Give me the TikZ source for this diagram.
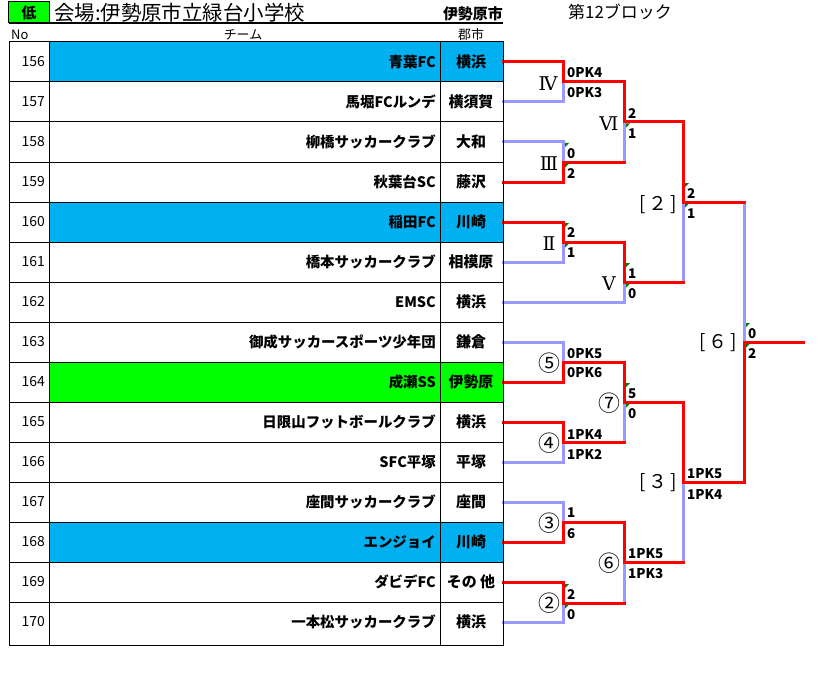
\documentclass[tikz,border=0pt]{standalone}
\usepackage{fontspec}
\setmainfont{Noto Sans CJK JP}
\newfontfamily\romanfont{DejaVu Serif}
\definecolor{redl}{RGB}{255,0,0}
\definecolor{bluel}{RGB}{153,153,255}
\definecolor{cyanfill}{RGB}{0,176,240}
\definecolor{limefill}{RGB}{0,255,0}
\definecolor{tickgreen}{RGB}{0,128,0}
\newcommand\fsz[1]{\fontsize{#1}{#1}\selectfont}
\begin{document}
\begin{tikzpicture}[x=1bp,y=-1bp,
  win/.style={draw=redl, line width=3bp, line join=miter, line cap=rect},
  lose/.style={draw=bluel, line width=3bp, line join=miter, line cap=rect},
  score/.style={anchor=west, inner sep=0pt, font=\fsz{13.5}\bfseries},
  mlabel/.style={inner sep=0pt, font=\fsz{19}\romanfont},
  circlab/.style={inner sep=0pt, font=\fsz{22}},
  brlab/.style={inner sep=0pt, font=\fsz{19}},
  gridline/.style={draw=black, line width=1bp},
  tickmark/.style={fill=tickgreen},
  numtxt/.style={anchor=east, inner sep=0pt, font=\fsz{14}},
  teamtxt/.style={anchor=east, inner sep=0pt, font=\fsz{14.5}\bfseries},
  citytxt/.style={inner sep=0pt, font=\fsz{15}\bfseries},
  headtxt/.style={inner sep=0pt, font=\fsz{13}}]
\useasboundingbox (0,0) rectangle (819,685);
\fill[white] (0,0) rectangle (819,685);

% header
\node[draw=black, line width=1bp, fill=limefill, minimum width=40bp, minimum height=21bp, inner sep=0pt, font=\fsz{15}\bfseries] (low) at (29,12.5) {低};
\node[anchor=west, inner sep=0pt, font=\fsz{20.5}] (title) at (54,13) {会場:伊勢原市立緑台小学校};
\node[anchor=east, inner sep=0pt, font=\fsz{15}\bfseries] (cityhead) at (503,14) {伊勢原市};
\node[anchor=west, inner sep=0pt, font=\fsz{17}] (block) at (568,12) {第12ブロック};
\coordinate (hl) at (9,23);
\coordinate (hr) at (503,23);
\draw[line width=1.3bp] (hl) -- (hr);
\node[headtxt, anchor=west] (hno) at (11,35) {No};
\node[headtxt] (hteam) at (243,35) {チーム};
\node[headtxt] (hcity) at (471,35) {郡市};

% rows
\foreach \num/\team/\city/\fc [count=\k from 0] in {
 156/青葉FC/横浜/cyanfill,
 157/馬堀FCルンデ/横須賀/white,
 158/柳橋サッカークラブ/大和/white,
 159/秋葉台SC/藤沢/white,
 160/稲田FC/川崎/cyanfill,
 161/橋本サッカークラブ/相模原/white,
 162/EMSC/横浜/white,
 163/御成サッカースポーツ少年団/鎌倉/white,
 164/成瀬SS/伊勢原/limefill,
 165/日限山フットボールクラブ/横浜/white,
 166/SFC平塚/平塚/white,
 167/座間サッカークラブ/座間/white,
 168/エンジョイ/川崎/cyanfill,
 169/ダビデFC/その 他/white,
 170/一本松サッカークラブ/横浜/white}{
  \pgfmathsetmacro\yc{62+40*\k}
  \fill[\fc] (49,{\yc-20}) rectangle (503,{\yc+20});
  \node[numtxt] (n\num) at (45,\yc) {\num};
  \node[teamtxt] (t\num) at (436,\yc) {\team};
  \node[citytxt] (c\num) at (471,\yc) {\city};
  \coordinate (r\num) at (503,\yc);
}

% match points
\coordinate (mIV) at (563,82);
\coordinate (mIII) at (563,162);
\coordinate (mII) at (563,242);
\coordinate (mVI) at (624,122);
\coordinate (mV) at (624,282);
\coordinate (mb2) at (683,202);
\coordinate (mc5) at (563,362);
\coordinate (mc4) at (563,442);
\coordinate (mc3) at (563,522);
\coordinate (mc2) at (563,603);
\coordinate (mc7) at (624,402);
\coordinate (mc6) at (624,562);
\coordinate (mb3) at (683,482);
\coordinate (mb6) at (744,342);
\coordinate (fin) at (803,342);

% losers (blue)
\draw[lose] (r157) -| (mIV);
\draw[lose] (r158) -| (mIII);
\draw[lose] (mIII -| mVI) -- (mVI);
\draw[lose] (r161) -| (mII);
\draw[lose] (r162) -| (mV);
\draw[lose] (mV -| mb2) -- (mb2);
\draw[lose] (mb2 -| mb6) -- (mb6);
\draw[lose] (r163) -| (mc5);
\draw[lose] (r166) -| (mc4);
\draw[lose] (mc4 -| mc7) -- (mc7);
\draw[lose] (r167) -| (mc3);
\draw[lose] (mc6 -| mb3) -- (mb3);
\draw[lose] (r170) -| (mc2);
\draw[lose] (mc2 -| mc6) -- (mc6);

% winners (red)
\draw[win] (r156) -| (mIV) -| (mVI) -| (mb2) -- (mb2 -| mb6);
\draw[win] (r159) -| (mIII) -- (mIII -| mVI);
\draw[win] (r160) -| (mII) -| (mV) -- (mV -| mb2);
\draw[win] (r164) -| (mc5) -| (mc7) -| (mb3) -| (mb6) -- (fin);
\draw[win] (r165) -| (mc4) -- (mc4 -| mc7);
\draw[win] (r168) -| (mc3) -| (mc6) -- (mc6 -| mb3);
\draw[win] (r169) -| (mc2) -- (mc2 -| mc6);

% table grid
\draw[gridline] (9,42) rectangle (503,645);
\draw[gridline] (49,42) -- (49,645);
\draw[gridline] (440,42) -- (440,645);
\foreach \j in {1,...,14}{
  \draw[gridline] (9,{42+40*\j}) -- (503,{42+40*\j});
}

% comment ticks
\foreach \m in {mIII,mII,mV,mb2,mb6,mc7,mc2}{
  \fill[tickmark, shift={(\m)}] (2,-19) -- (6,-19) -- (2,-15) -- cycle;
}
\foreach \m in {mIII,mII,mVI,mV,mb2,mb6,mc7,mc2}{
  \fill[tickmark, shift={(\m)}] (2,1.5) -- (6,1.5) -- (2,5.5) -- cycle;
}

% match labels
\node[mlabel] (lIV) at ([shift={(-15,2)}]mIV) {Ⅳ};
\node[mlabel] (lIII) at ([shift={(-14,2)}]mIII) {Ⅲ};
\node[mlabel] (lII) at ([shift={(-14,2)}]mII) {Ⅱ};
\node[mlabel] (lVI) at ([shift={(-15,2)}]mVI) {Ⅵ};
\node[mlabel] (lV) at ([shift={(-15,2)}]mV) {Ⅴ};
\node[brlab] (lb2) at ([shift={(-25,3)}]mb2) {[\hspace{3bp}２\hspace{3bp}]};
\node[brlab] (lb3) at ([shift={(-25,1)}]mb3) {[\hspace{3bp}３\hspace{3bp}]};
\node[brlab] (lb6) at ([shift={(-26,1)}]mb6) {[\hspace{3bp}６\hspace{3bp}]};
\node[circlab] (lc5) at ([shift={(-14,1)}]mc5) {⑤};
\node[circlab] (lc4) at ([shift={(-14,1)}]mc4) {④};
\node[circlab] (lc3) at ([shift={(-14,1)}]mc3) {③};
\node[circlab] (lc2) at ([shift={(-14,0)}]mc2) {②};
\node[circlab] (lc7) at ([shift={(-15,1)}]mc7) {⑦};
\node[circlab] (lc6) at ([shift={(-15,1)}]mc6) {⑥};

% scores
\node[score] (sIVa) at ([shift={(4,-9)}]mIV) {0PK4};
\node[score] (sIVb) at ([shift={(4,11)}]mIV) {0PK3};
\node[score] (sIIIa) at ([shift={(4,-8)}]mIII) {0};
\node[score] (sIIIb) at ([shift={(4,12)}]mIII) {2};
\node[score] (sIIa) at ([shift={(4,-9)}]mII) {2};
\node[score] (sIIb) at ([shift={(4,11)}]mII) {1};
\node[score] (sVIa) at ([shift={(4,-8)}]mVI) {2};
\node[score] (sVIb) at ([shift={(4,12)}]mVI) {1};
\node[score] (sVa) at ([shift={(4,-8)}]mV) {1};
\node[score] (sVb) at ([shift={(4,12)}]mV) {0};
\node[score] (sb2a) at ([shift={(4,-8)}]mb2) {2};
\node[score] (sb2b) at ([shift={(4,12)}]mb2) {1};
\node[score] (sb6a) at ([shift={(4,-8)}]mb6) {0};
\node[score] (sb6b) at ([shift={(4,12)}]mb6) {2};
\node[score] (sc5a) at ([shift={(4,-8)}]mc5) {0PK5};
\node[score] (sc5b) at ([shift={(4,11)}]mc5) {0PK6};
\node[score] (sc4a) at ([shift={(4,-8)}]mc4) {1PK4};
\node[score] (sc4b) at ([shift={(4,12)}]mc4) {1PK2};
\node[score] (sc7a) at ([shift={(4,-8)}]mc7) {5};
\node[score] (sc7b) at ([shift={(4,12)}]mc7) {0};
\node[score] (sc3a) at ([shift={(4,-9)}]mc3) {1};
\node[score] (sc3b) at ([shift={(4,12)}]mc3) {6};
\node[score] (sc2a) at ([shift={(4,-8)}]mc2) {2};
\node[score] (sc2b) at ([shift={(4,12)}]mc2) {0};
\node[score] (sc6a) at ([shift={(4,-8)}]mc6) {1PK5};
\node[score] (sc6b) at ([shift={(4,12)}]mc6) {1PK3};
\node[score] (sb3a) at ([shift={(4,-8)}]mb3) {1PK5};
\node[score] (sb3b) at ([shift={(4,12)}]mb3) {1PK4};
\end{tikzpicture}
\end{document}
